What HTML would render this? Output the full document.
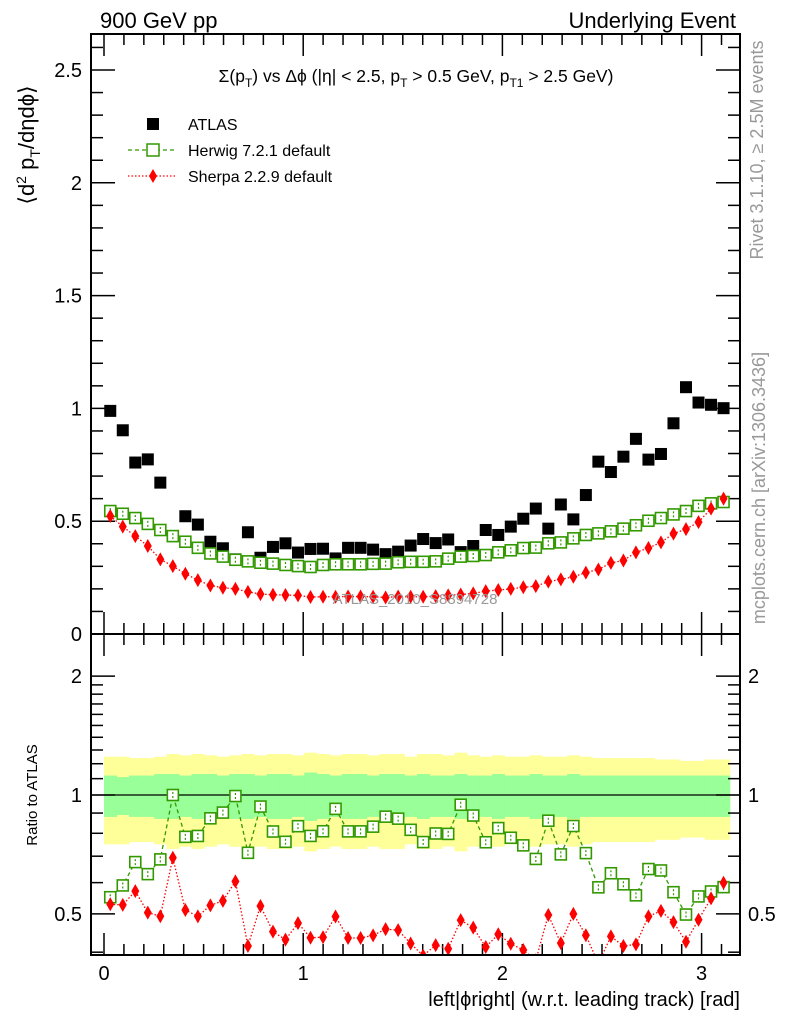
<!DOCTYPE html>
<html><head><meta charset="utf-8"><style>
html,body{margin:0;padding:0;background:#fff}
svg{display:block;font-family:"Liberation Sans",sans-serif}
</style></head><body>
<svg id="c" width="786" height="1024" xmlns="http://www.w3.org/2000/svg">
<defs>
<clipPath id="cm"><rect x="91" y="34" width="649" height="600"/></clipPath>
<clipPath id="cr"><rect x="91" y="634" width="649" height="321"/></clipPath>
</defs>
<g id="bands" clip-path="url(#cr)"></g>
<g id="grid"></g>
<g id="main" clip-path="url(#cm)"></g>
<g id="ratio" clip-path="url(#cr)"></g>
<rect x="91" y="34" width="649" height="600" fill="none" stroke="#000" stroke-width="2"/>
<rect x="91" y="634" width="649" height="321" fill="none" stroke="#000" stroke-width="2"/>
<text x="100" y="28" font-size="22">900 GeV pp</text>
<text x="736" y="28" font-size="22" text-anchor="end">Underlying Event</text>
<text x="416" y="82" font-size="17.5" text-anchor="middle">Σ(p<tspan font-size="12" dy="5">T</tspan><tspan dy="-5">) vs Δϕ (|η| &lt; 2.5, p</tspan><tspan font-size="12" dy="5">T</tspan><tspan dy="-5"> &gt; 0.5 GeV, p</tspan><tspan font-size="12" dy="5">T1</tspan><tspan dy="-5"> &gt; 2.5 GeV)</tspan></text>
<g>
<rect x="147" y="118" width="12" height="12" fill="#000"/>
<text x="188" y="130" font-size="16">ATLAS</text>
<line x1="128" y1="150" x2="175" y2="150" stroke="#339900" stroke-width="1.3" stroke-dasharray="4,3"/>
<rect x="147" y="144" width="12" height="12" fill="#fff" stroke="#339900" stroke-width="1.5"/>
<text x="188" y="156" font-size="16">Herwig 7.2.1 default</text>
<line x1="128" y1="176" x2="175" y2="176" stroke="#f00" stroke-width="1.3" stroke-dasharray="1.5,2"/>
<path d="M153 169 L157 176 L153 183 L149 176 Z" fill="#f00"/>
<text x="188" y="182" font-size="16">Sherpa 2.2.9 default</text>
</g>
<text x="415" y="604" font-size="15" fill="#999" text-anchor="middle">ATLAS_2010_S8894728</text>
<text transform="translate(34,145) rotate(-90)" font-size="22" text-anchor="middle">⟨d<tspan font-size="14" dy="-8">2</tspan><tspan dy="8"> p</tspan><tspan font-size="14" dy="6">T</tspan><tspan dy="-6">/dηdϕ⟩</tspan></text>
<text transform="translate(37,795) rotate(-90)" font-size="15" text-anchor="middle">Ratio to ATLAS</text>
<text x="740" y="1006" font-size="20" text-anchor="end">left|ϕright| (w.r.t. leading track) [rad]</text>
<text transform="translate(763,150) rotate(-90)" font-size="18" fill="#999" text-anchor="middle">Rivet 3.1.10, ≥ 2.5M events</text>
<text transform="translate(765,488) rotate(-90)" font-size="18" fill="#999" text-anchor="middle">mcplots.cern.ch [arXiv:1306.3436]</text>
</svg>
<script>
const atlas=[0.989,0.903,0.760,0.774,0.671,0.434,0.522,0.485,0.409,0.380,0.331,0.451,0.338,0.386,0.402,0.361,0.377,0.378,0.335,0.382,0.382,0.374,0.354,0.365,0.392,0.421,0.403,0.419,0.363,0.390,0.461,0.439,0.476,0.511,0.556,0.467,0.574,0.508,0.616,0.764,0.718,0.786,0.865,0.773,0.798,0.934,1.094,1.026,1.016,1.001];
const herwig=[0.545,0.533,0.514,0.488,0.461,0.434,0.409,0.382,0.357,0.343,0.329,0.322,0.316,0.312,0.306,0.301,0.297,0.306,0.309,0.309,0.309,0.311,0.312,0.318,0.320,0.320,0.322,0.334,0.343,0.346,0.350,0.362,0.371,0.381,0.383,0.402,0.406,0.424,0.439,0.446,0.455,0.467,0.482,0.502,0.514,0.530,0.545,0.568,0.579,0.585];
const sherpa=[0.523,0.476,0.434,0.390,0.331,0.301,0.267,0.239,0.215,0.205,0.200,0.187,0.177,0.174,0.173,0.171,0.164,0.165,0.165,0.166,0.166,0.165,0.162,0.166,0.165,0.165,0.168,0.171,0.175,0.180,0.190,0.195,0.200,0.207,0.212,0.232,0.242,0.254,0.272,0.286,0.315,0.326,0.362,0.381,0.406,0.445,0.465,0.496,0.556,0.600];
const statErr=[0.12,0.11,0.12,0.12,0.13,0.13,0.12,0.13,0.13,0.12,0.13,0.13,0.12,0.13,0.13,0.12,0.14,0.13,0.12,0.13,0.13,0.12,0.13,0.13,0.12,0.13,0.12,0.12,0.13,0.12,0.12,0.13,0.12,0.12,0.13,0.12,0.12,0.13,0.12,0.12,0.12,0.12,0.12,0.12,0.12,0.12,0.12,0.12,0.12,0.12];
const totErr=[0.25,0.25,0.24,0.24,0.25,0.27,0.26,0.27,0.26,0.25,0.26,0.27,0.26,0.27,0.27,0.26,0.28,0.27,0.26,0.27,0.27,0.26,0.27,0.27,0.25,0.27,0.27,0.26,0.28,0.26,0.25,0.26,0.25,0.25,0.26,0.25,0.25,0.26,0.25,0.24,0.24,0.24,0.24,0.24,0.23,0.23,0.22,0.22,0.23,0.23];
const xTicks=[0,1,2,3];
const yTicks=[0,0.5,1,1.5,2,2.5];
const rTicks=[0.5,1,2];
const NS="http://www.w3.org/2000/svg";
const N=atlas.length, bw=Math.PI/N;
const X=v=>104+199.2*v;
const Y=v=>634-225.6*v;
const R=v=>795-395*Math.log10(v);
function el(tag,attrs,parent){const e=document.createElementNS(NS,tag);for(const k in attrs)e.setAttribute(k,attrs[k]);parent.appendChild(e);return e;}
const svg=document.getElementById('c'),main=document.getElementById('main'),ratio=document.getElementById('ratio'),bands=document.getElementById('bands'),grid=document.getElementById('grid');
for(let i=0;i<N;i++){
 const x0=X(i*bw),x1=X((i+1)*bw);
 const y=el('rect',{x:x0,y:R(1+totErr[i]),width:x1-x0+0.5,height:R(1-totErr[i])-R(1+totErr[i]),fill:'#ffff99'},bands);
 
 
}
for(let i=0;i<N;i++){
 const x0=X(i*bw),x1=X((i+1)*bw);
 const g=el('rect',{x:x0,y:R(1+statErr[i]),width:x1-x0+0.5,height:R(1-statErr[i])-R(1+statErr[i]),fill:'#99ff99'},bands);
 
 
}
const one=el('line',{x1:91,x2:740,y1:R(1),y2:R(1),stroke:'#000','stroke-width':1.3},bands);


function tick(x1,y1,x2,y2){el('line',{x1,y1,x2,y2,stroke:'#000','stroke-width':1.5},grid);}
for(let v=0;v<=3.15;v+=0.1){const x=X(v),maj=Math.abs(v-Math.round(v))<0.01;const L=maj?22:11;
 tick(x,634,x,634-L);tick(x,34,x,34+L);tick(x,955,x,955-L);tick(x,634,x,634+L);}
for(let v=0;v<=2.61;v+=0.1){const y=Y(v),maj=Math.abs(v*2-Math.round(v*2))<0.01;const L=maj?24:12;
 if(y<34)continue;tick(91,y,91+L,y);tick(740,y,740-L,y);}
[0.4,0.5,0.6,0.7,0.8,0.9,1,1.1,1.2,1.3,1.4,1.5,1.6,1.7,1.8,1.9,2].forEach(v=>{const y=R(v),maj=(v===0.5||v===1||v===2);const L=maj?24:12;tick(91,y,91+L,y);tick(740,y,740-L,y);});
xTicks.forEach(v=>{const t=el('text',{x:X(v),y:980,'font-size':20,'text-anchor':'middle'},svg);t.textContent=v;
 
 });
yTicks.forEach(v=>{const t=el('text',{x:82,y:Y(v)+7,'font-size':20,'text-anchor':'end'},svg);t.textContent=v;
 
 });
rTicks.forEach(v=>{[[82,'end'],[748,'start']].forEach(([x,a])=>{const t=el('text',{x,y:R(v)+7,'font-size':20,'text-anchor':a},svg);t.textContent=v;
 
 });});
const cx=i=>X((i+0.5)*bw);
function line(vals,f,color,dash,parent,name){
 const p=el('polyline',{points:vals.map((v,i)=>cx(i)+','+f(v)).join(' '),fill:'none',stroke:color,'stroke-width':1.3,'stroke-dasharray':dash},parent);
 
 
}
function sq(x,y,parent,name){const r=el('rect',{x:x-5.5,y:y-5.5,width:11,height:11,fill:'#fff',stroke:'#339900','stroke-width':1.6},parent);
 
 
 el('line',{x1:x,y1:y-3,x2:x,y2:y+3,stroke:'#339900','stroke-width':1.2,'stroke-dasharray':'2,2'},parent);}
function dia(x,y,parent,name){const p=el('path',{d:`M${x} ${y-7}L${x+4} ${y}L${x} ${y+7}L${x-4} ${y}Z`,fill:'#f00'},parent);
 
 }
line(herwig,Y,'#339900','4,3',main,'herwig-line');
line(sherpa,Y,'#f00','1.5,2',main,'sherpa-line');
atlas.forEach((v,i)=>{const r=el('rect',{x:cx(i)-6,y:Y(v)-6,width:12,height:12,fill:'#000'},main);
 
 });
herwig.forEach((v,i)=>sq(cx(i),Y(v),main,'herwig-point'));
sherpa.forEach((v,i)=>dia(cx(i),Y(v),main,'sherpa-point'));
const hr=herwig.map((v,i)=>v/atlas[i]), sr=sherpa.map((v,i)=>v/atlas[i]);
line(hr,R,'#339900','4,3',ratio,'herwig-ratio-line');
line(sr,R,'#f00','1.5,2',ratio,'sherpa-ratio-line');
hr.forEach((v,i)=>sq(cx(i),R(v),ratio,'herwig-ratio-point'));
sr.forEach((v,i)=>dia(cx(i),R(v),ratio,'sherpa-ratio-point'));
</script>
</body></html>
